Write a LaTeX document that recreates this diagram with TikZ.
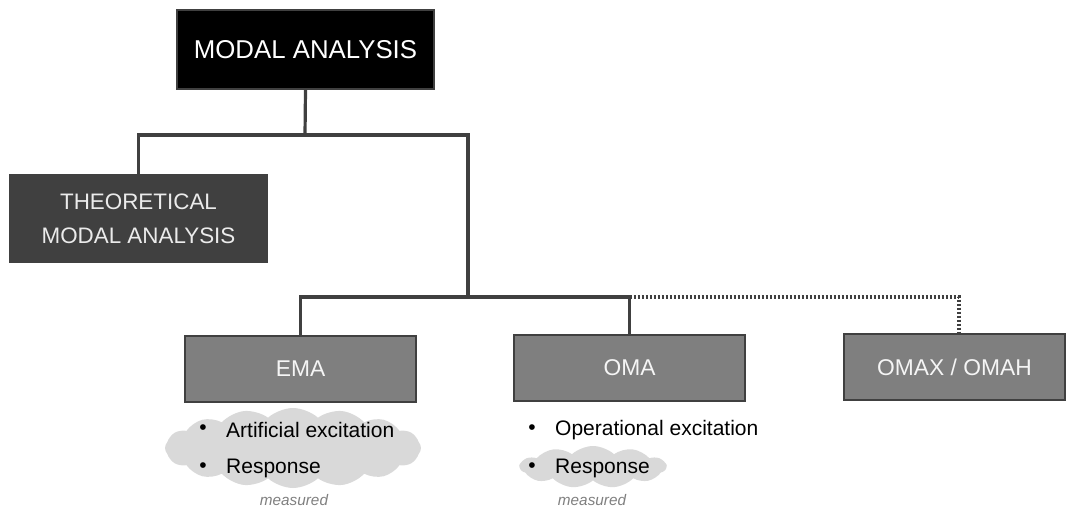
\documentclass[tikz,border=0pt]{standalone}
\usepackage{fontspec}
\setmainfont{Liberation Sans}
\usetikzlibrary{shapes.symbols}
\definecolor{linegray}{HTML}{404040}
\definecolor{boxgray}{HTML}{7F7F7F}
\definecolor{cloudgray}{HTML}{D9D9D9}
\definecolor{notegray}{HTML}{7F7F7F}
\tikzset{
  box/.style={draw=linegray, line width=1.8pt, fill=boxgray, text=white!96!black,
    minimum width=231pt, minimum height=66pt, inner sep=0pt,
    font=\fontsize{22.8}{27}\selectfont},
  conn/.style={draw=linegray, line width=3.2pt},
  dotconn/.style={draw=linegray, line width=3.2pt, dash pattern=on 2.2pt off 1.8pt},
  item/.style={anchor=west, inner sep=0pt, font=\fontsize{21}{25}\selectfont},
  bullet/.style={inner sep=0pt, font=\fontsize{21}{25}\selectfont},
  note/.style={inner sep=0pt, text=notegray, font=\fontsize{15.3}{18}\selectfont\itshape},
  puff/.style={cloud, cloud puffs=16, cloud puff arc=85, fill=cloudgray, draw=none,
    inner sep=0pt}
}
\begin{document}
\begin{tikzpicture}[x=1pt, y=-1pt]
\useasboundingbox (0,0) rectangle (1067,511);

% top level
\node[draw=linegray, line width=1.6pt, fill=black, text=white, minimum width=257pt,
  minimum height=79pt, inner sep=0pt, font=\fontsize{25.8}{30}\selectfont]
  (top) at (305.5,49.5) {MODAL ANALYSIS};

% theoretical branch
\node[fill=linegray, text=white!92!black, minimum width=259pt, minimum height=89pt,
  inner sep=0pt, align=center, font=\fontsize{22.4}{34}\selectfont]
  (theo) at (138.5,218.5) {THEORETICAL\\MODAL ANALYSIS};

% experimental branches
\node[box] (ema) at (300.5,369) {EMA};
\node[box] (oma) at (629.5,368) {OMA};
\node[box, minimum width=221pt] (omax) at (954.5,367) {OMAX / OMAH};

% junctions
\coordinate (j1) at (305,135);
\coordinate (j2) at (468,297);

\draw[conn] (top.south) -- (j1);
\draw[conn] (theo.north) |- (j1) -| (j2);
\draw[conn] (ema.north) |- (j2) -| (oma.north);
\draw[dotconn] (oma.north |- j2) -| ([xshift=4.5pt]omax.north);

% measured quantities of EMA
\node[puff, minimum width=256pt, minimum height=80pt, aspect=3.2] (emacloud) at (293,448) {};
\node[bullet] (eb1) at (203,430) {•};
\node[item] (ei1) at (226,430) {Artificial excitation};
\node[bullet] (eb2) at (203,468) {•};
\node[item] (ei2) at (226,468) {Response};
\node[note] (emanote) at (294,500) {measured};

% measured quantities of OMA
\node[puff, cloud puffs=11, minimum width=146pt, minimum height=42pt, aspect=3.4] (omacloud) at (593,467) {};
\node[bullet] (ob1) at (532,430) {•};
\node[item] (oi1) at (555,430) {Operational excitation};
\node[bullet] (ob2) at (532,468) {•};
\node[item] (oi2) at (555,468) {Response};
\node[note] (omanote) at (592,500) {measured};
\end{tikzpicture}
\end{document}
